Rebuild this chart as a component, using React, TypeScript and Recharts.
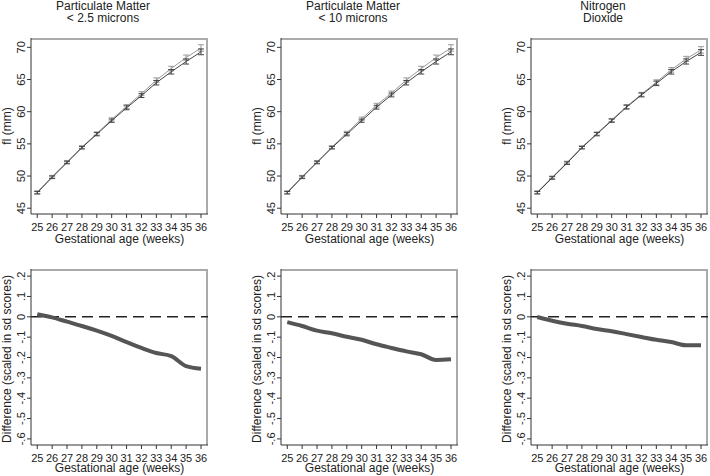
import React from "react";
import {
  LineChart,
  Line,
  XAxis,
  YAxis,
  ErrorBar,
  ReferenceLine,
} from "recharts";

const weeks = [25, 26, 27, 28, 29, 30, 31, 32, 33, 34, 35, 36];

const pm25Upper = [47.5, 49.9, 52.2, 54.5, 56.6, 58.8, 60.8, 62.8, 64.9, 66.7, 68.4, 69.9];
const pm25Lower = [47.4, 49.8, 52.1, 54.4, 56.5, 58.6, 60.6, 62.5, 64.5, 66.2, 67.8, 69.3];
const pm10Upper = [47.5, 49.9, 52.2, 54.5, 56.7, 58.9, 61.0, 62.9, 64.9, 66.7, 68.4, 69.9];
const pm10Lower = [47.4, 49.8, 52.1, 54.4, 56.5, 58.6, 60.7, 62.6, 64.5, 66.2, 67.8, 69.3];
const no2Upper = [47.5, 49.8, 52.1, 54.5, 56.6, 58.7, 60.8, 62.7, 64.6, 66.5, 68.2, 69.6];
const no2Lower = [47.4, 49.7, 52.0, 54.4, 56.5, 58.6, 60.7, 62.6, 64.4, 66.2, 67.8, 69.2];
const errUpper = [0.2, 0.2, 0.2, 0.2, 0.25, 0.25, 0.3, 0.3, 0.35, 0.35, 0.4, 0.5];
const errLower = [0.2, 0.2, 0.2, 0.2, 0.25, 0.25, 0.3, 0.3, 0.35, 0.35, 0.4, 0.45];

const pm25Diff = [0.013, -0.003, -0.024, -0.045, -0.068, -0.094, -0.124, -0.153, -0.178, -0.193, -0.242, -0.255];
const pm10Diff = [-0.026, -0.045, -0.068, -0.081, -0.098, -0.113, -0.135, -0.153, -0.17, -0.184, -0.212, -0.209];
const no2Diff = [-0.001, -0.019, -0.034, -0.045, -0.06, -0.071, -0.085, -0.099, -0.113, -0.124, -0.14, -0.14];

const fitTicks = [45, 50, 55, 60, 65, 70];
const diffTicks = [-0.6, -0.5, -0.4, -0.3, -0.2, -0.1, 0, 0.1, 0.2];

const panels = [
  { title: ["Particulate Matter", "< 2.5 microns"], upper: pm25Upper, lower: pm25Lower, diff: pm25Diff },
  { title: ["Particulate Matter", "< 10 microns"], upper: pm10Upper, lower: pm10Lower, diff: pm10Diff },
  { title: ["Nitrogen", "Dioxide"], upper: no2Upper, lower: no2Lower, diff: no2Diff },
];

const FONT = "'Liberation Sans', Arial, sans-serif";
const STEP = 250;
const PLOT_L = 31;
const PLOT_W = 177;

const fmtDiff = (v: number) => String(v).replace("0.", ".");

// y tick labels stand on their side, as in the original
const RotTick = (props: any) => {
  const { x, y, payload, formatter } = props;
  const label = formatter ? formatter(payload.value) : String(payload.value);
  return (
    <text
      x={x}
      y={y}
      transform={`rotate(-90 ${x} ${y})`}
      textAnchor="middle"
      fontSize={11}
      fontFamily={FONT}
      fill="#222"
    >
      {label}
    </text>
  );
};

const xAxisProps = {
  dataKey: "week",
  type: "number" as const,
  domain: [24.58, 36.47],
  ticks: weeks,
  interval: 0 as const,
  tickSize: 4,
  tickMargin: 5,
  height: 22,
  allowDataOverflow: true,
  stroke: "#333",
  tick: { fontSize: 11, fontFamily: FONT, fill: "#222" },
};

function FitChart({ panel }: { panel: (typeof panels)[number] }) {
  const data = weeks.map((w, i) => ({
    week: w,
    upper: panel.upper[i],
    lower: panel.lower[i],
    eu: errUpper[i],
    el: errLower[i],
  }));
  return (
    <LineChart width={STEP} height={238} data={data} margin={{ top: 38, right: STEP - PLOT_L - PLOT_W, bottom: 2, left: 11 }}>
      <XAxis {...xAxisProps} />
      <YAxis
        type="number"
        domain={[44.1, 71.45]}
        ticks={fitTicks}
        interval={0}
        width={20}
        tickSize={4}
        tickMargin={2}
        allowDataOverflow
        stroke="#333"
        tick={<RotTick />}
      />
      <Line dataKey="upper" type="linear" stroke="#999" strokeWidth={1} dot={false} isAnimationActive={false}>
        <ErrorBar dataKey="eu" width={3} stroke="#999" strokeWidth={1} direction="y" />
      </Line>
      <Line dataKey="lower" type="linear" stroke="#444" strokeWidth={1} dot={false} isAnimationActive={false}>
        <ErrorBar dataKey="el" width={3} stroke="#444" strokeWidth={1} direction="y" />
      </Line>
    </LineChart>
  );
}

function DiffChart({ panel }: { panel: (typeof panels)[number] }) {
  const data = weeks.map((w, i) => ({ week: w, diff: panel.diff[i] }));
  return (
    <LineChart width={STEP} height={238} data={data} margin={{ top: 31, right: STEP - PLOT_L - PLOT_W, bottom: 9, left: 11 }}>
      <XAxis {...xAxisProps} />
      <YAxis
        type="number"
        domain={[-0.63, 0.235]}
        ticks={diffTicks}
        interval={0}
        width={20}
        tickSize={4}
        tickMargin={2}
        allowDataOverflow
        stroke="#333"
        tick={<RotTick formatter={fmtDiff} />}
      />
      <ReferenceLine y={0} stroke="#222" strokeWidth={1.5} strokeDasharray="11 6" />
      <Line dataKey="diff" type="monotone" stroke="#555" strokeWidth={4} dot={false} isAnimationActive={false} />
    </LineChart>
  );
}

export default function App() {
  return (
    <div style={{ position: "absolute", left: 0, top: 0, width: 710, height: 476, overflow: "hidden", background: "#fff" }}>
      {panels.map((p, i) => (
        <React.Fragment key={i}>
          <div style={{ position: "absolute", left: PLOT_L + STEP * i, top: 38, width: PLOT_W, height: 176, borderTop: "2px solid #aaa", borderRight: "2px solid #aaa", boxSizing: "border-box" }} />
          <div style={{ position: "absolute", left: PLOT_L + STEP * i, top: 269, width: PLOT_W, height: 176, borderTop: "2px solid #aaa", borderRight: "2px solid #aaa", boxSizing: "border-box" }} />
          <div style={{ position: "absolute", left: STEP * i, top: 0 }}>
            <FitChart panel={p} />
          </div>
          <div style={{ position: "absolute", left: STEP * i, top: 238 }}>
            <DiffChart panel={p} />
          </div>
        </React.Fragment>
      ))}
      <svg width={710} height={476} style={{ position: "absolute", left: 0, top: 0, pointerEvents: "none" }}>
        <g fontFamily={FONT} fontSize={12} fill="#222" textAnchor="middle">
          {panels.map((p, i) => {
            const cx = 103 + STEP * i;
            const px = PLOT_L + PLOT_W / 2 + STEP * i;
            const lx = 11 + STEP * i;
            return (
              <g key={i}>
                <text x={cx} y={10}>{p.title[0]}</text>
                <text x={cx} y={22}>{p.title[1]}</text>
                <text x={px} y={243}>Gestational age (weeks)</text>
                <text x={px} y={472}>Gestational age (weeks)</text>
                <text x={lx} y={126} transform={`rotate(-90 ${lx} 126)`}>fl (mm)</text>
                <text x={lx} y={359} transform={`rotate(-90 ${lx} 359)`}>Difference (scaled in sd scores)</text>
              </g>
            );
          })}
        </g>
      </svg>
    </div>
  );
}
